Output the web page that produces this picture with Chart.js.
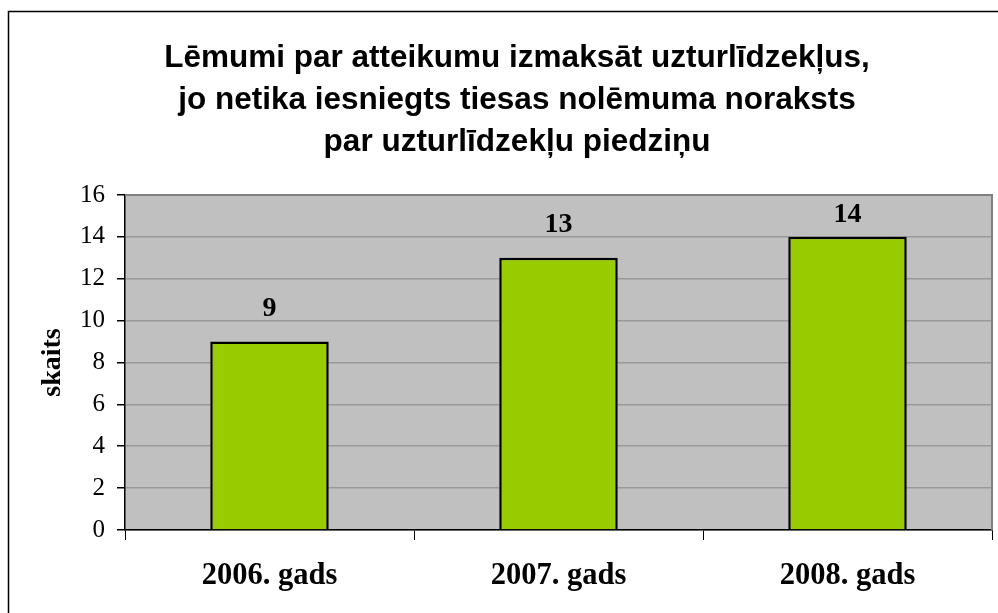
<!DOCTYPE html>
<html>
<head>
<meta charset="utf-8">
<script src="https://cdn.jsdelivr.net/npm/chart.js@4/dist/chart.umd.min.js"></script>
<style>
  html, body { margin: 0; padding: 0; background: #fff; }
  #wrap { width: 998px; height: 613px; }
</style>
</head>
<body>
<div id="wrap"><canvas id="chart" width="998" height="613"></canvas></div>
<script>
const TITLE_LINES = [
    'Lēmumi par atteikumu izmaksāt uzturlīdzekļus,',
    'jo netika iesniegts tiesas nolēmuma noraksts',
    'par uzturlīdzekļu piedziņu'
];
const CATEGORIES = ['2006. gads', '2007. gads', '2008. gads'];
const VALUES = [9, 13, 14];
const Y_TITLE = 'skaits';
const Y_MIN = 0, Y_MAX = 16, Y_STEP = 2;

const SERIF = '"Liberation Serif", "Times New Roman", serif';
const SANS = '"Liberation Sans", Arial, sans-serif';

// gray plot background + outer frame
const plotFrame = {
    id: 'plotFrame',
    beforeDraw(chart) {
        const { ctx, chartArea: a } = chart;
        ctx.save();
        ctx.fillStyle = '#c0c0c0';
        ctx.fillRect(a.left, a.top, a.right - a.left, a.bottom - a.top);
        // outer border (runs off the right and bottom edges)
        ctx.strokeStyle = '#000';
        ctx.lineWidth = 1.5;
        ctx.strokeRect(8.5, 11.5, 1100, 700);
        ctx.restore();
    },
    afterDatasetsDraw(chart) {
        const { ctx, chartArea: a } = chart;
        ctx.save();
        ctx.strokeStyle = '#808080';
        ctx.lineWidth = 2;
        ctx.beginPath();
        ctx.moveTo(a.left, a.top);
        ctx.lineTo(a.right, a.top);
        ctx.lineTo(a.right, a.bottom);
        ctx.stroke();
        ctx.restore();
    }
};

// value labels above the bars (kept inside the plot area)
const valueLabels = {
    id: 'valueLabels',
    afterDatasetsDraw(chart) {
        const { ctx, chartArea } = chart;
        const meta = chart.getDatasetMeta(0);
        ctx.save();
        ctx.font = 'bold 28px ' + SERIF;
        ctx.fillStyle = '#000';
        ctx.textAlign = 'center';
        ctx.textBaseline = 'middle';
        meta.data.forEach((bar, i) => {
            const y = Math.max(bar.y - 33, chartArea.top + 20);
            ctx.fillText(String(VALUES[i]), bar.x, y);
        });
        ctx.restore();
    }
};

new Chart(document.getElementById('chart'), {
    type: 'bar',
    data: {
        labels: CATEGORIES,
        datasets: [{
            data: VALUES,
            backgroundColor: '#99cc00',
            borderColor: '#000',
            borderWidth: 2.5,
            barPercentage: 0.41,
            categoryPercentage: 1
        }]
    },
    options: {
        responsive: false,
        animation: false,
        layout: { padding: { top: 37, left: 42, right: 6, bottom: 0 } },
        plugins: {
            legend: { display: false },
            tooltip: { enabled: false },
            title: {
                display: true,
                text: TITLE_LINES,
                color: '#000',
                font: { family: SANS, size: 31.5, weight: 'bold', lineHeight: 1.333 },
                padding: { top: 0, bottom: 32 }
            }
        },
        scales: {
            x: {
                grid: { display: true, drawOnChartArea: false, offset: true, tickLength: 10, tickColor: '#000' },
                border: { color: '#000', width: 1.5 },
                ticks: { color: '#000', padding: 18, font: { family: SERIF, size: 30.5, weight: 'bold' } },
                afterFit(scale) { scale.height = 83; }
            },
            y: {
                min: Y_MIN,
                max: Y_MAX,
                ticks: { stepSize: Y_STEP, color: '#000', padding: 12, font: { family: SERIF, size: 25 } },
                grid: { color: '#999999', lineWidth: 1.5, tickLength: 8, tickColor: '#000' },
                border: { color: '#000', width: 1.5 },
                title: {
                    display: true,
                    text: Y_TITLE,
                    color: '#000',
                    font: { family: SERIF, size: 28, weight: 'bold', lineHeight: 0.6 },
                    padding: { top: 2, bottom: 0 }
                },
                afterFit(scale) { scale.width = 83; }
            }
        }
    },
    plugins: [plotFrame, valueLabels]
});
</script>
</body>
</html>
